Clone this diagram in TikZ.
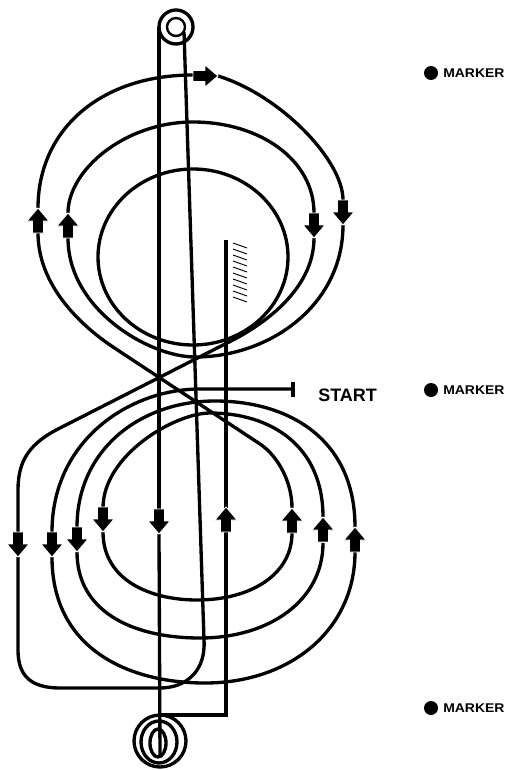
\documentclass[tikz,border=0pt]{standalone}
\usepackage{fontspec}
\setmainfont{Liberation Sans}
\begin{document}
\begin{tikzpicture}[x=0.75pt,y=-0.75pt,
  track/.style={line width=2.5pt, line join=round},
  thicktrack/.style={line width=3.4pt},
  hatchline/.style={line width=0.7pt},
  dotmark/.style={circle, fill=black, inner sep=0pt, minimum size=10.5pt},
  marktext/.style={font=\fontsize{9.5pt}{10pt}\selectfont\bfseries, inner sep=0pt, anchor=base west, xscale=1.1},
  starttext/.style={font=\fontsize{13.5pt}{14pt}\selectfont\bfseries, inner sep=0pt, anchor=base west},
  dnarrow/.pic={\fill[draw=white, line width=0.6pt] (-5.5,-25) -- (5.5,-25) -- (5.5,-13) -- (11,-13) -- (0,0) -- (-11,-13) -- (-5.5,-13) -- cycle;},
  uparrow/.pic={\fill[draw=white, line width=0.6pt] (-5.5,25) -- (5.5,25) -- (5.5,13) -- (11,13) -- (0,0) -- (-11,13) -- (-5.5,13) -- cycle;},
  rtarrow/.pic={\fill[draw=white, line width=0.6pt] (-25,-5.5) -- (-25,5.5) -- (-13,5.5) -- (-13,11) -- (0,0) -- (-13,-11) -- (-13,-5.5) -- cycle;}
]
\useasboundingbox (0,0) rectangle (507,770);

% top spiral
\draw[track] (176,27) circle (17);
\draw[track, line width=1.8pt] (176,27) circle (9);
% bottom spiral
\draw[track] (160,741) circle (26);
\draw[track] (159,742) ellipse [x radius=18, y radius=21];
\draw[track] (158,743) ellipse [x radius=8, y radius=14];

% inner upper loop
\draw[track] (193,257) ellipse [x radius=95, y radius=88];

% verticals
\draw[track] (159,27) -- (159,509);
\draw[track] (159,534) -- (160,757);
\draw[track] (184,32) -- (204,640) .. controls (206,672) and (185,688) .. (160,688);
\draw[thicktrack] (226,240) -- (226,715) -- (160,715);

% hatch
\foreach \k in {0,...,9} \draw[hatchline] (233,243+6*\k) -- (247,248+6*\k);

% start line and lower loops
\draw[track] (293,382) -- (293,397);
\draw[track] (293,389) -- (200,389) .. controls (130,389) and (52,440) .. (52,532);
\draw[track] (52,557) .. controls (52,650) and (130,683) .. (205,683) .. controls (290,683) and (355,630) .. (355,552);
\draw[track] (355,527) .. controls (355,440) and (290,401) .. (215,401) .. controls (140,401) and (77,450) .. (77,527);
\draw[track] (77,552) .. controls (77,610) and (130,638) .. (200,638) .. controls (270,638) and (323,600) .. (323,543);
\draw[track] (323,517) .. controls (323,445) and (270,413) .. (210,413) .. controls (175,413) and (103,455) .. (103,508);
\draw[track] (103,532) .. controls (103,580) and (150,600) .. (197,600) .. controls (250,600) and (292,575) .. (292,533);
% line A and outer upper loop
\draw[track] (292,508) .. controls (292,482) and (278,456) .. (260,444) -- (113,347) .. controls (80,325) and (38,285) .. (38,233);
\draw[track] (38,208) .. controls (38,130) and (100,75) .. (193,75);
\draw[track] (218,76) .. controls (280,95) and (343,160) .. (343,200);
\draw[track] (343,225) .. controls (343,305) and (270,357) .. (195,357) .. controls (150,357) and (68,310) .. (68,238);
\draw[track] (68,213) .. controls (68,170) and (125,122) .. (193,122) .. controls (260,122) and (314,160) .. (314,213);
% line B
\draw[track] (314,238) .. controls (314,290) and (262,326) .. (227,343) -- (60,428) .. controls (30,443) and (18,460) .. (18,490) -- (18,532);
\draw[track] (18,557) -- (18,650) .. controls (18,675) and (30,688) .. (60,688) -- (160,688);

% arrows
\pic at (18,557) {dnarrow};
\pic at (52,557) {dnarrow};
\pic at (77,552) {dnarrow};
\pic at (103,532) {dnarrow};
\pic at (159,534) {dnarrow};
\pic at (226,507) {uparrow};
\pic at (292,508) {uparrow};
\pic at (323,517) {uparrow};
\pic at (355,527) {uparrow};
\pic at (38,208) {uparrow};
\pic at (68,213) {uparrow};
\pic at (314,238) {dnarrow};
\pic at (343,225) {dnarrow};
\pic at (218,76) {rtarrow};

% labels
\node[starttext] (start) at (318,401) {START};
\node[dotmark] (d1) at (431,73) {};
\node[marktext] (m1) at (443,77.5) {MARKER};
\node[dotmark] (d2) at (431,390) {};
\node[marktext] (m2) at (443,394.5) {MARKER};
\node[dotmark] (d3) at (431,708) {};
\node[marktext] (m3) at (443,712.5) {MARKER};
\end{tikzpicture}
\end{document}
